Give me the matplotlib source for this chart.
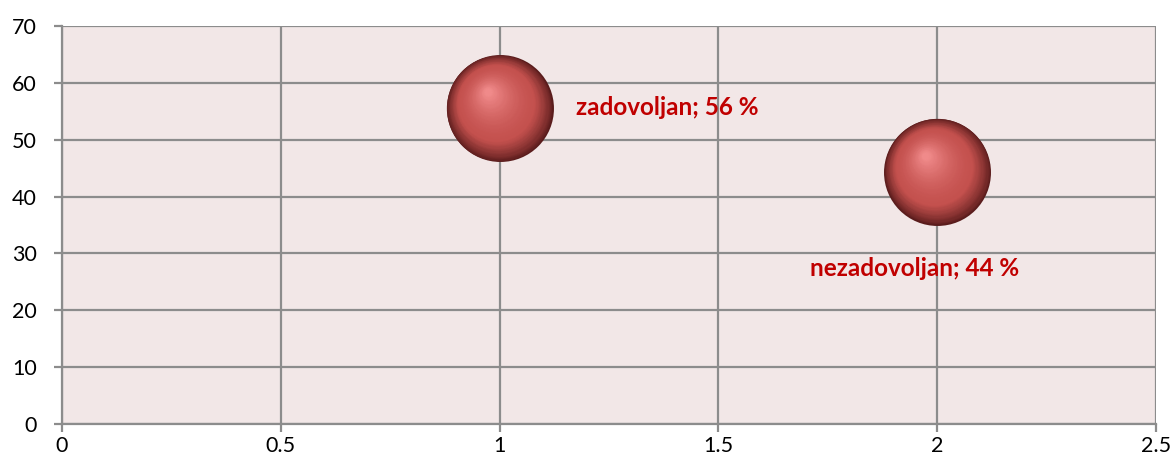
import matplotlib
matplotlib.use("Agg")
import matplotlib.pyplot as plt
import matplotlib.transforms as mtransforms
import numpy as np
from matplotlib.colors import to_rgb

categories = ["zadovoljan", "nezadovoljan"]
x_vals = [1, 2]
y_vals = [55.6, 44.4]
pct_labels = ["56 %", "44 %"]
x_ticks = [0, 0.5, 1, 1.5, 2, 2.5]
x_tick_labels = ["0", "0.5", "1", "1.5", "2", "2.5"]
y_ticks = [0, 10, 20, 30, 40, 50, 60, 70]

plt.rcParams['font.family'] = ['Lato', 'DejaVu Sans']

fig = plt.figure(figsize=(11.76, 4.68), dpi=100)
ax = fig.add_axes([62/1176, 1-424/468, (1156-62)/1176, (424-26)/468])
ax.set_facecolor('#F2E7E7')
ax.set_xlim(0, 2.5)
ax.set_ylim(0, 70)
ax.set_xticks(x_ticks)
ax.set_xticklabels(x_tick_labels)
ax.set_yticks(y_ticks)
grid_c = '#8C8C8C'
ax.grid(True, color=grid_c, linewidth=1.6, zorder=0)
ax.set_axisbelow(True)
for s in ['top', 'right']:
    ax.spines[s].set_visible(False)
for s in ['left', 'bottom']:
    ax.spines[s].set_color(grid_c)
    ax.spines[s].set_linewidth(1.6)
ax.tick_params(axis='both', colors=grid_c, length=6, width=1.6, labelsize=15.5,
               labelcolor='black')
ax.tick_params(axis='y', pad=12)
ax.tick_params(axis='x', pad=3)

# sphere-like bubbles built by layered scatter markers
D = 77.0  # diameter in points
N = 60
edge = np.array(to_rgb('#5A1C1C'))
mid = np.array(to_rgb('#C4514E'))
hi = np.array(to_rgb('#F08A8A'))
for i in range(N):
    t = i / (N - 1)
    d = D * (1 - 0.93 * t)
    off = mtransforms.ScaledTranslation(-0.22 * D / 2 * t / 72,
                                        0.3 * D / 2 * t / 72, fig.dpi_scale_trans)
    if t < 0.3:
        c = edge + (mid - edge) * (t / 0.3) ** 0.8
    else:
        c = mid + (hi - mid) * ((t - 0.3) / 0.7) ** 1.6
    ax.scatter(x_vals, y_vals, s=d ** 2, color=c, linewidths=0,
               transform=ax.transData + off, zorder=3 + i * 0.001)

# labels
lab_color = '#C00000'
ax.annotate(f"{categories[0]}; {pct_labels[0]}", (x_vals[0], y_vals[0]),
            xytext=(55, 0), textcoords='offset points', ha='left', va='center',
            color=lab_color, fontweight='bold', fontsize=17.5, zorder=10)
ax.annotate(f"{categories[1]}; {pct_labels[1]}", (x_vals[1], y_vals[1]),
            xytext=(-16, -70), textcoords='offset points', ha='center', va='center',
            color=lab_color, fontweight='bold', fontsize=17.5, zorder=10)

fig.savefig("out.png", dpi=100)
